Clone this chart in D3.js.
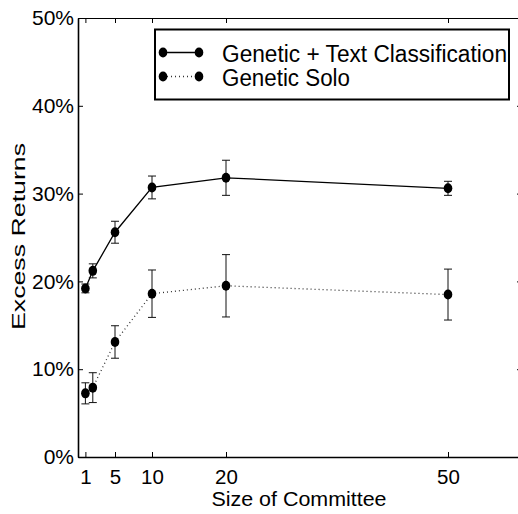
<!DOCTYPE html>
<html>
<head>
<meta charset="utf-8">
<script src="https://cdn.jsdelivr.net/npm/d3@7"></script>
<style>
  html, body { margin: 0; padding: 0; background: #fff; }
  svg { display: block; font-family: "Liberation Sans", Arial, sans-serif; }
</style>
</head>
<body>
<svg id="chart" width="518" height="514"></svg>
<script>
// ---- data ----
const committeeSizes = [1, 2, 5, 10, 20, 50];
const geneticTextMean = [19.2, 21.2, 25.6, 30.7, 31.8, 30.6];
const geneticTextErr  = [0.5, 0.8, 1.25, 1.3, 2.0, 0.8];
const geneticSoloMean = [7.25, 7.9, 13.1, 18.6, 19.5, 18.5];
const geneticSoloErr  = [1.2, 1.7, 1.85, 2.7, 3.55, 2.9];
const xTickValues = [1, 5, 10, 20, 50];
const yTickValues = [0, 10, 20, 30, 40, 50];
const seriesNames = ["Genetic + Text Classification", "Genetic Solo"];
const xLabel = "Size of Committee";
const yLabel = "Excess Returns";

// ---- layout ----
const plotL = 78, plotR = 522, plotT = 18, plotB = 457;
const svg = d3.select("#chart");
const x = d3.scaleLinear().domain([0, 60]).range([plotL, plotR]);
const y = d3.scaleLinear().domain([0, 50]).range([plotB, plotT]);

// axes
const fmt = d => d + "%";
const gB = svg.append("g").attr("transform", `translate(0,${plotB})`)
  .call(d3.axisBottom(x).tickValues(xTickValues).tickSizeInner(-5).tickSizeOuter(0).tickPadding(12));
const gL = svg.append("g").attr("transform", `translate(${plotL},0)`)
  .call(d3.axisLeft(y).tickValues(yTickValues).tickFormat(fmt).tickSizeInner(-5).tickSizeOuter(0).tickPadding(4));
const gT = svg.append("g").attr("transform", `translate(0,${plotT})`)
  .call(d3.axisTop(x).tickValues(xTickValues).tickFormat("").tickSizeInner(-5).tickSizeOuter(0));
const gR = svg.append("g").attr("transform", `translate(${plotR},0)`)
  .call(d3.axisRight(y).tickValues(yTickValues).tickFormat("").tickSizeInner(-5).tickSizeOuter(0));
[gL, gT, gR].forEach(g => {
  g.selectAll("text").attr("font-size", 21).attr("fill", "#000")
    .attr("font-family", "'Liberation Sans', Arial, sans-serif");
});
gB.selectAll("text").attr("font-size", 20.5).attr("fill", "#000")
  .attr("font-family", "'Liberation Sans', Arial, sans-serif");
[gB, gL, gT, gR].forEach(g => g.selectAll("line").attr("stroke", "#000").attr("stroke-width", 1));
gB.select(".domain").attr("stroke", "#000").attr("stroke-width", 1.6);
gL.select(".domain").attr("stroke", "#000").attr("stroke-width", 1.6);
gT.select(".domain").attr("stroke", "#000").attr("stroke-width", 1);
gR.select(".domain").attr("stroke", "#000").attr("stroke-width", 1);

// series
const series = [
  { mean: geneticTextMean, err: geneticTextErr, dash: null, color: "#000" },
  { mean: geneticSoloMean, err: geneticSoloErr, dash: "1,3", color: "#333" }
];
const line = d3.line().x(d => x(d.x)).y(d => y(d.y));
series.forEach(s => {
  const pts = committeeSizes.map((c, i) => ({ x: c, y: s.mean[i], e: s.err[i] }));
  svg.append("path").datum(pts).attr("d", line)
    .attr("fill", "none").attr("stroke", s.color).attr("stroke-width", 1.3)
    .attr("stroke-dasharray", s.dash);
  const eb = svg.append("g").attr("stroke", "#111").attr("stroke-width", 1);
  pts.forEach(p => {
    eb.append("line").attr("x1", x(p.x)).attr("x2", x(p.x)).attr("y1", y(p.y - p.e)).attr("y2", y(p.y + p.e));
    eb.append("line").attr("x1", x(p.x) - 4).attr("x2", x(p.x) + 4).attr("y1", y(p.y - p.e)).attr("y2", y(p.y - p.e));
    eb.append("line").attr("x1", x(p.x) - 4).attr("x2", x(p.x) + 4).attr("y1", y(p.y + p.e)).attr("y2", y(p.y + p.e));
  });
  svg.append("g").selectAll("ellipse").data(pts).join("ellipse")
    .attr("cx", d => x(d.x)).attr("cy", d => y(d.y)).attr("rx", 4.3).attr("ry", 5)
    .attr("fill", "#000");
});

// legend
const lg = svg.append("g");
lg.append("rect").attr("x", 155).attr("y", 29.5).attr("width", 354).attr("height", 70)
  .attr("fill", "#fff").attr("stroke", "#000").attr("stroke-width", 2);
const rowsY = [52.5, 76.5];
const lens = [285, 128];
series.forEach((s, i) => {
  lg.append("line").attr("x1", 163).attr("x2", 199).attr("y1", rowsY[i]).attr("y2", rowsY[i])
    .attr("stroke", s.color).attr("stroke-width", 1.3).attr("stroke-dasharray", s.dash);
  [163, 199].forEach(cx => lg.append("ellipse").attr("cx", cx).attr("cy", rowsY[i])
    .attr("rx", 4.3).attr("ry", 5).attr("fill", "#000"));
  lg.append("text").attr("x", 222).attr("y", rowsY[i] + 9.5).attr("font-size", 23)
    .attr("textLength", lens[i]).attr("lengthAdjust", "spacingAndGlyphs")
    .text(seriesNames[i]);
});

// axis labels
svg.append("text").attr("x", 299).attr("y", 506).attr("text-anchor", "middle")
  .attr("font-size", 20).attr("textLength", 175).attr("lengthAdjust", "spacingAndGlyphs")
  .text(xLabel);
svg.append("text").attr("transform", "translate(25,236.5) rotate(-90)").attr("text-anchor", "middle")
  .attr("font-size", 19).attr("textLength", 187).attr("lengthAdjust", "spacingAndGlyphs")
  .text(yLabel);
</script>
</body>
</html>
